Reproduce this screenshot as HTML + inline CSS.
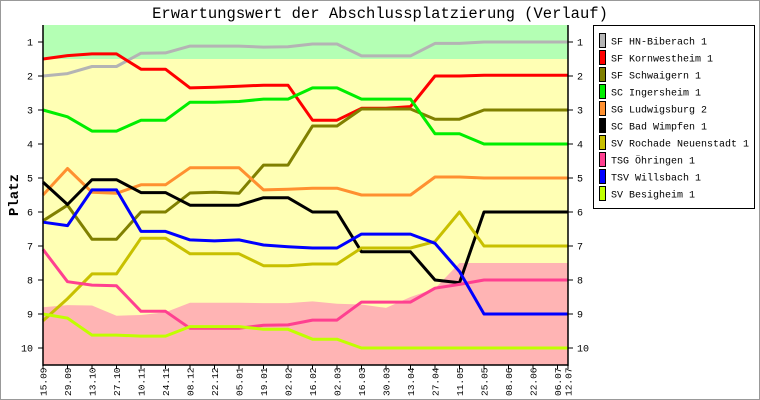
<!DOCTYPE html>
<html><head><meta charset="utf-8"><style>
body{margin:0;background:#fff}
svg{display:block;font-family:"Liberation Mono",monospace}
</style></head><body>
<svg width="760" height="400" viewBox="0 0 760 400">
<rect x="0.5" y="0.5" width="759" height="399" fill="#fff" stroke="#999"/>
<text x="380" y="18" text-anchor="middle" font-size="15.5">Erwartungswert der Abschlussplatzierung (Verlauf)</text>
<text transform="translate(18,195) rotate(-90)" text-anchor="middle" font-size="14" font-weight="bold">Platz</text>
<g id="plot"></g>
<g id="axes"></g>
<g id="legend"></g>
</svg>
<script>
const dates=["15.09","29.09","13.10","27.10","10.11","24.11","08.12","22.12","05.01","19.01","02.02","16.02","02.03","16.03","30.03","13.04","27.04","11.05","25.05","08.06","22.06","06.07","12.07"];
const dayOffsets=[0,14,28,42,56,70,84,98,112,126,140,154,168,182,196,210,224,238,252,266,280,294,300];
const teams=["SF HN-Biberach 1","SF Kornwestheim 1","SF Schwaigern 1","SC Ingersheim 1","SG Ludwigsburg 2","SC Bad Wimpfen 1","SV Rochade Neuenstadt 1","TSG Öhringen 1","TSV Willsbach 1","SV Besigheim 1"];
const colors=["#b4b4b4","#ff0000","#808000","#00ee00","#ff9030","#000000","#c8c000","#ff4090","#0000ff","#c0ff00"];
const sHN=[2.0,1.93,1.72,1.72,1.33,1.32,1.12,1.12,1.12,1.15,1.14,1.06,1.06,1.41,1.41,1.41,1.04,1.04,1.0,1.0,1.0,1.0,1.0];
const sKW=[1.5,1.4,1.35,1.35,1.8,1.8,2.35,2.33,2.3,2.27,2.27,3.3,3.3,2.95,2.95,2.9,2.0,2.0,1.98,1.98,1.98,1.98,1.98];
const sSW=[6.26,5.8,6.8,6.8,6.0,6.0,5.44,5.42,5.45,4.62,4.62,3.47,3.47,2.97,2.97,2.97,3.27,3.27,3.0,3.0,3.0,3.0,3.0];
const sIN=[3.0,3.2,3.62,3.62,3.3,3.3,2.77,2.77,2.75,2.68,2.68,2.35,2.35,2.68,2.68,2.68,3.7,3.7,4.0,4.0,4.0,4.0,4.0];
const sLB=[5.5,4.72,5.42,5.45,5.2,5.2,4.7,4.7,4.7,5.35,5.33,5.3,5.3,5.5,5.5,5.5,4.97,4.97,5.0,5.0,5.0,5.0,5.0];
const sBW=[5.12,5.78,5.05,5.05,5.43,5.43,5.8,5.8,5.8,5.58,5.58,6.0,6.0,7.17,7.17,7.17,8.0,8.08,6.0,6.0,6.0,6.0,6.0];
const sRN=[9.2,8.55,7.82,7.82,6.77,6.77,7.23,7.23,7.23,7.58,7.58,7.53,7.53,7.06,7.06,7.06,6.87,6.0,7.0,7.0,7.0,7.0,7.0];
const sOE=[7.1,8.05,8.15,8.17,8.92,8.92,9.42,9.42,9.42,9.33,9.32,9.18,9.18,8.65,8.65,8.65,8.24,8.13,8.0,8.0,8.0,8.0,8.0];
const sWI=[6.3,6.4,5.35,5.35,6.57,6.57,6.82,6.85,6.82,6.97,7.02,7.06,7.06,6.65,6.65,6.65,6.92,7.75,9.0,9.0,9.0,9.0,9.0];
const sBE=[9.0,9.12,9.62,9.62,9.65,9.65,9.37,9.37,9.37,9.45,9.45,9.74,9.74,10.0,10.0,10.0,10.0,10.0,10.0,10.0,10.0,10.0,10.0];
const relegationTop=[8.8,8.74,8.75,9.05,9.03,8.95,8.67,8.67,8.67,8.68,8.68,8.63,8.7,8.72,8.82,8.5,8.25,7.5,7.5,7.5,7.5,7.5,7.5];
const promotionLimit=1.5;
const rankTicks=[1,2,3,4,5,6,7,8,9,10];
const series=[sHN,sKW,sSW,sIN,sLB,sBW,sRN,sOE,sWI,sBE];

const NS="http://www.w3.org/2000/svg";
const X0=43,X1=568,Y0=25,Y1=365;
const maxDay=dayOffsets[dayOffsets.length-1];
const xs=d=>X0+(X1-X0)*d/maxDay;
const ys=r=>Y0+(Y1-Y0)*(r-0.5)/10;
function mk(tag,attrs,parent){const e=document.createElementNS(NS,tag);for(const k in attrs)e.setAttribute(k,attrs[k]);parent.appendChild(e);return e;}
const plot=document.getElementById('plot'),axes=document.getElementById('axes'),legend=document.getElementById('legend');

let e=mk('rect',{x:X0,y:Y0,width:X1-X0,height:ys(promotionLimit)-Y0,fill:'#b4ffb4'},plot);


e=mk('rect',{x:X0,y:ys(promotionLimit),width:X1-X0,height:Y1-ys(promotionLimit),fill:'#ffffb4'},plot);


let pts=dayOffsets.map((d,i)=>xs(d)+','+ys(relegationTop[i])).join(' ');
pts+=' '+X1+','+Y1+' '+X0+','+Y1;
e=mk('polygon',{points:pts,fill:'#ffb4b4'},plot);



series.forEach((s,k)=>{
  const p=s.map((v,i)=>xs(dayOffsets[i]).toFixed(1)+','+ys(v).toFixed(1)).join(' ');
  const l=mk('polyline',{points:p,fill:'none',stroke:colors[k],'stroke-width':3,'stroke-linejoin':'round'},plot);
  
  
});

e=mk('line',{x1:X0,y1:Y0,x2:X0,y2:Y1+1,stroke:'#000','stroke-width':1.5},axes);


e=mk('line',{x1:X1,y1:Y0,x2:X1,y2:Y1+1,stroke:'#000','stroke-width':1.5},axes);


e=mk('line',{x1:X0,y1:Y1,x2:X1,y2:Y1,stroke:'#000','stroke-width':1.5},axes);


rankTicks.forEach(r=>{
  const y=ys(r);
  mk('line',{x1:X0-5,y1:y,x2:X0,y2:y,stroke:'#000'},axes);
  mk('line',{x1:X1,y1:y,x2:X1+5,y2:y,stroke:'#000'},axes);
  let t=mk('text',{x:X0-10,y:y+3.5,'text-anchor':'end','font-size':10},axes);t.textContent=r;
  
  
  t=mk('text',{x:X1+9,y:y+3.5,'font-size':10},axes);t.textContent=r;
  
  
});
dates.forEach((d,i)=>{
  const x=xs(dayOffsets[i]);
  mk('line',{x1:x,y1:Y1,x2:x,y2:Y1+4,stroke:'#000'},axes);
  const t=mk('text',{transform:'translate('+(x+3.5)+',396) rotate(-90)','font-size':9.5},axes);
  t.textContent=d;
  
  
});

e=mk('rect',{x:593.5,y:25.5,width:161,height:183,fill:'#fff',stroke:'#000'},legend);


teams.forEach((n,k)=>{
  const y=33+k*17;
  const r=mk('rect',{x:599.5,y:y+0.5,width:6,height:14,fill:colors[k],stroke:'#000'},legend);
  
  
  const t=mk('text',{x:611,y:y+11.5,'font-size':10},legend);
  t.textContent=n;
  
  
});
</script>
</body></html>
